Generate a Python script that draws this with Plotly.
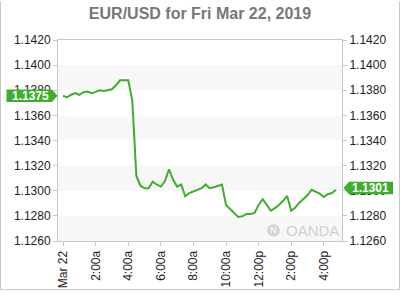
import plotly.graph_objects as go
import pandas as pd

# ---- data ----
start_time = "2019-03-22 00:00"
prices = [
    1.13754, 1.13744, 1.13764, 1.13777, 1.13764, 1.13785, 1.13790, 1.13777,
    1.13787, 1.13800, 1.13795, 1.13803, 1.13808, 1.13840, 1.13879, 1.13879,
    1.13880, 1.13720, 1.13118, 1.13040, 1.13020, 1.13020, 1.13072, 1.13050,
    1.13033, 1.13075, 1.13170, 1.13090, 1.13033, 1.13050, 1.12956, 1.12982,
    1.12995, 1.13003, 1.13020, 1.13050, 1.13020, 1.13028, 1.13036, 1.13050,
    1.12887, 1.12854, 1.12822, 1.12792, 1.12797, 1.12815, 1.12815, 1.12823,
    1.12887, 1.12933, 1.12887, 1.12841, 1.12862, 1.12887, 1.12920, 1.12959,
    1.12841, 1.12867, 1.12905, 1.12931, 1.12964, 1.13008, 1.12990, 1.12977,
    1.12951, 1.12972, 1.12982, 1.13008,
]
times = pd.date_range(start_time, periods=len(prices), freq="15min")

x_tickvals = ["2019-03-22 00:00", "2019-03-22 02:00", "2019-03-22 04:00",
              "2019-03-22 06:00", "2019-03-22 08:00", "2019-03-22 10:00",
              "2019-03-22 12:00", "2019-03-22 14:00", "2019-03-22 16:00"]
x_ticktext = ["Mar 22", "2:00a", "4:00a", "6:00a", "8:00a", "10:00a",
              "12:00p", "2:00p", "4:00p"]
y_tickvals = [1.1260, 1.1280, 1.1300, 1.1320, 1.1340, 1.1360, 1.1380, 1.1400, 1.1420]
band_ranges = [(1.1380, 1.1400), (1.1340, 1.1360), (1.1300, 1.1320), (1.1260, 1.1280)]
open_label = "1.1375"
last_label = "1.1301"
title_text = "EUR/USD for Fri Mar 22, 2019"

GREEN = "#3fad2e"
AXIS = "#c8c8c8"
FONT = "Liberation Sans, Arial, sans-serif"

W, H = 400, 300
L, R, T, B = 58, 58, 40, 51
PW, PH = W - L - R, H - T - B


def px(x):
    return (x - L) / PW


def py(y):
    return (H - B - y) / PH


fig = go.Figure()
fig.add_trace(go.Scatter(x=times, y=prices, mode="lines",
                         line=dict(color=GREEN, width=2), hoverinfo="skip",
                         showlegend=False))
fig.add_trace(go.Scatter(x=times, y=prices, mode="lines", yaxis="y2",
                         line=dict(color="rgba(0,0,0,0)", width=0),
                         hoverinfo="skip", showlegend=False))

shapes = []
for lo, hi in band_ranges:
    shapes.append(dict(type="rect", xref="paper", yref="y", x0=0, x1=1,
                       y0=lo, y1=hi, fillcolor="#f7f7f7", line=dict(width=0),
                       layer="below"))

# outer image border (left, right, bottom)
for (x0, y0, x1, y1) in [(0.5, 0, 0.5, 299.5), (399.5, 0, 399.5, 299.5),
                         (0.5, 299.5, 399.5, 299.5)]:
    shapes.append(dict(type="line", xref="paper", yref="paper",
                       x0=px(x0), y0=py(y0), x1=px(x1), y1=py(y1),
                       line=dict(color=AXIS, width=1)))

# left price tag
lx0, lx1, ltip, lyc, lh = 6.5, 52, 57.5, 98, 13
shapes.append(dict(type="path", xref="paper", yref="paper",
                   path=f"M {px(lx0)},{py(lyc-lh/2)} L {px(lx1)},{py(lyc-lh/2)} "
                        f"L {px(ltip)},{py(lyc)} L {px(lx1)},{py(lyc+lh/2)} "
                        f"L {px(lx0)},{py(lyc+lh/2)} Z",
                   fillcolor=GREEN, line=dict(width=0)))
# right price tag
rtip, rx0, rx1, ryc, rh = 343.5, 349, 393, 194, 13
shapes.append(dict(type="path", xref="paper", yref="paper",
                   path=f"M {px(rtip)},{py(ryc)} L {px(rx0)},{py(ryc-rh/2)} "
                        f"L {px(rx1)},{py(ryc-rh/2)} L {px(rx1)},{py(ryc+rh/2)} "
                        f"L {px(rx0)},{py(ryc+rh/2)} Z",
                   fillcolor=GREEN, line=dict(width=0)))
# OANDA logo circle
shapes.append(dict(type="circle", xref="paper", yref="paper",
                   x0=px(267), x1=px(280), y0=py(244.5), y1=py(231.5),
                   fillcolor="#d4d4d4", line=dict(width=0)))

annotations = [
    dict(text=f"<b>{open_label}</b>", xref="paper", yref="paper",
         x=px((lx0 + lx1) / 2 + 1), y=py(lyc), showarrow=False,
         font=dict(color="white", size=12, family=FONT),
         xanchor="center", yanchor="middle"),
    dict(text=f"<b>{last_label}</b>", xref="paper", yref="paper",
         x=px((rx0 + rx1) / 2 - 0.5), y=py(ryc), showarrow=False,
         font=dict(color="white", size=12, family=FONT),
         xanchor="center", yanchor="middle"),
    dict(text="OANDA", xref="paper", yref="paper", x=px(283.5), y=py(238.5),
         showarrow=False, font=dict(color="#d0d0d0", size=15, family=FONT),
         xanchor="left", yanchor="middle"),
    dict(text="N", xref="paper", yref="paper", x=px(273.5), y=py(238),
         showarrow=False, font=dict(color="white", size=9, family=FONT),
         xanchor="center", yanchor="middle"),
]

yaxis_common = dict(range=[1.1260, 1.1420], tickvals=y_tickvals,
                    tickformat=".4f", showgrid=False, zeroline=False,
                    ticks="outside", ticklen=4, tickcolor=AXIS,
                    tickfont=dict(size=12, family=FONT, color="#222222"),
                    showline=True, linecolor=AXIS, linewidth=1, fixedrange=True)

fig.update_layout(
    width=W, height=H,
    margin=dict(l=L, r=R, t=T, b=B, pad=0),
    paper_bgcolor="white", plot_bgcolor="white",
    title=dict(text=title_text, x=0.5, xanchor="center", xref="paper",
               y=1 - 13 / H, yref="container", yanchor="middle",
               font=dict(size=16, family=FONT, color="#777777", weight="bold")),
    xaxis=dict(type="date",
               range=["2019-03-21 23:41:30", "2019-03-22 17:07:00"],
               tickvals=x_tickvals, ticktext=x_ticktext, tickangle=-90,
               ticks="outside", ticklen=4, tickcolor=AXIS,
               tickfont=dict(size=12, family=FONT, color="#222222"),
               showgrid=False, zeroline=False, showline=True, mirror=True,
               linecolor=AXIS, linewidth=1, fixedrange=True),
    yaxis=dict(side="left", **yaxis_common),
    yaxis2=dict(side="right", overlaying="y", **yaxis_common),
    shapes=shapes, annotations=annotations, showlegend=False,
)

fig.write_html("out.html")
